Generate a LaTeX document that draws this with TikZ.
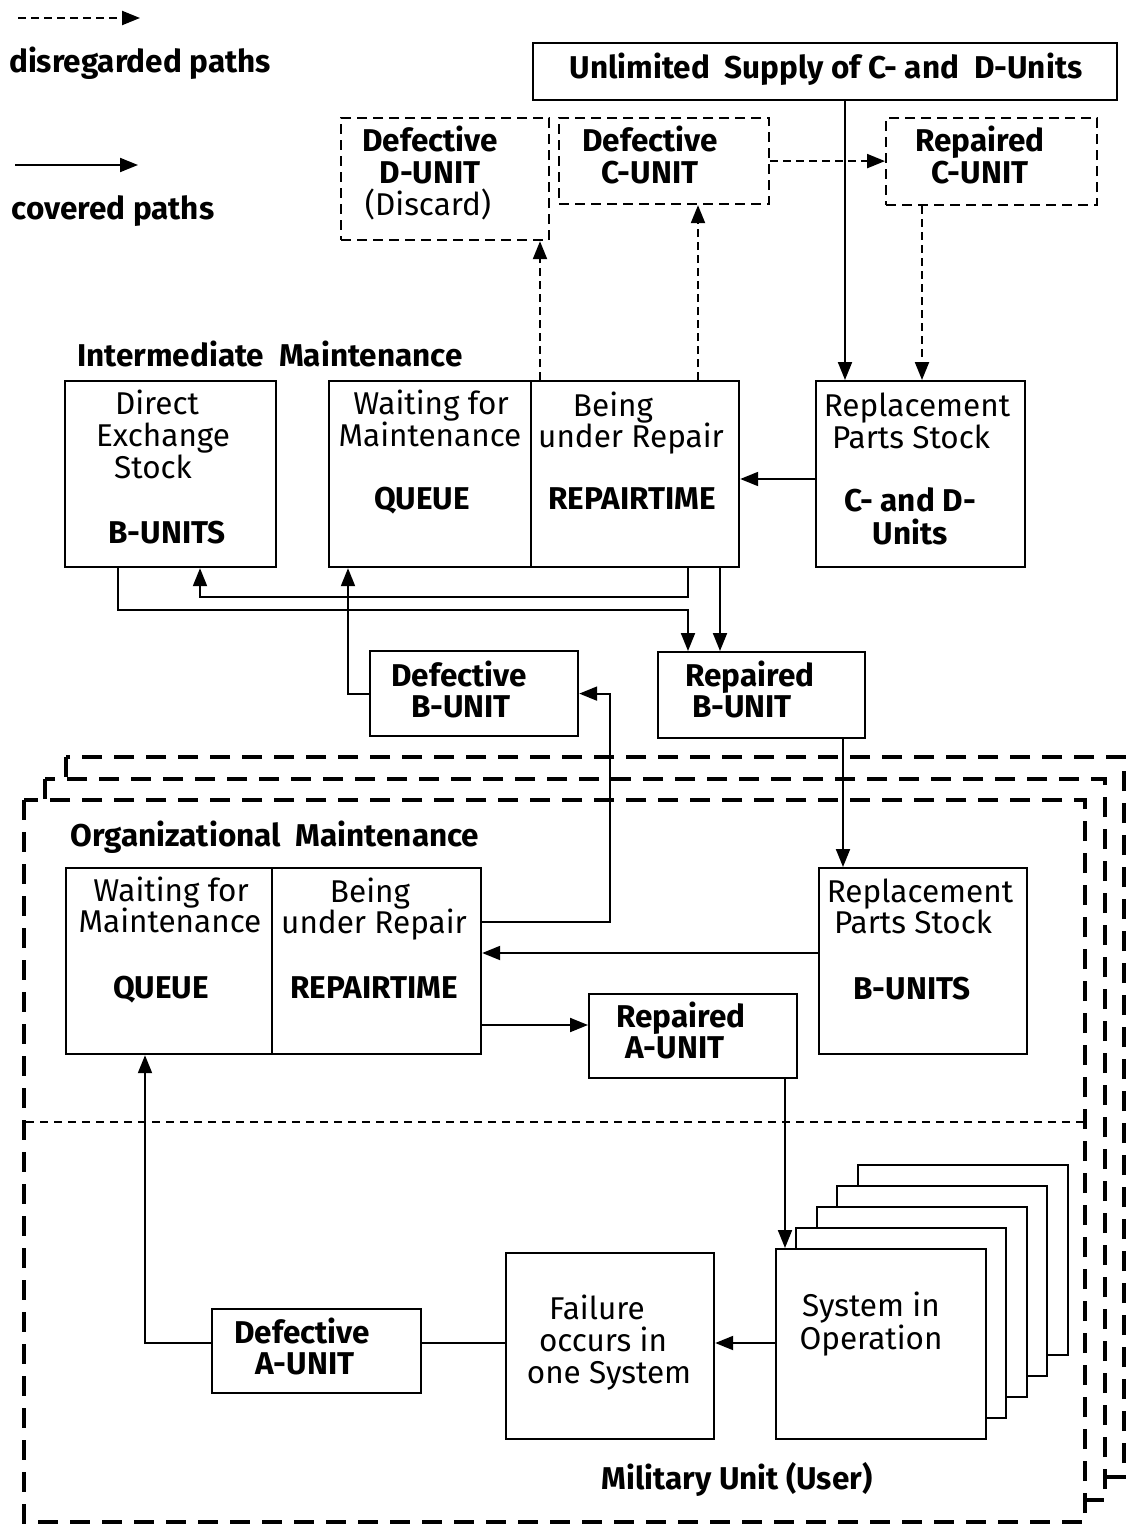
\documentclass[tikz,border=0pt]{standalone}
\usepackage{fontspec}
\setmainfont{Fira Sans}
\usetikzlibrary{arrows.meta}
\begin{document}
\begin{tikzpicture}[x=1pt,y=-1pt,
  box/.style={draw, line width=2.2pt, fill=white, anchor=north west, inner sep=0pt},
  dbox/.style={draw, line width=2.2pt, dash pattern=on 10pt off 6pt, anchor=north west, inner sep=0pt},
  frame/.style={draw, line width=4.5pt, dash pattern=on 20pt off 12pt, fill=white},
  t/.style={font=\fontsize{31.5}{33}\selectfont, inner sep=0pt, anchor=base},
  tb/.style={font=\fontsize{31.5}{33}\selectfont\bfseries, inner sep=0pt, anchor=base},
  arr/.style={line width=2pt, -{Triangle[length=18pt,width=14pt]}},
  darr/.style={line width=2.2pt, dash pattern=on 8pt off 5pt, -{Triangle[length=18pt,width=14pt]}},
  conn/.style={line width=2pt}]
\useasboundingbox (0,0) rectangle (1127,1533);

% ---------- big dashed frames (stacked) ----------
\path[frame] (66,757) rectangle (1124,1477);
\path[frame] (45,779) rectangle (1105,1500);
\path[frame] (24,800) rectangle (1085,1522);
\draw[line width=1.3pt, dash pattern=on 8pt off 6pt] (26,1122) -- (1083,1122);

% ---------- legend ----------
\coordinate (lg1a) at (18,18);
\coordinate (lg1b) at (140,18);
\coordinate (lg2a) at (15,165);
\coordinate (lg2b) at (138,165);
\draw[darr] (lg1a) -- (lg1b);
\draw[arr] (lg2a) -- (lg2b);
\node[tb] (lgt1) at (140,73) {disregarded paths};
\node[tb] (lgt2) at (113,219) {covered paths};

% ---------- top ----------
\node[box, minimum width=584pt, minimum height=57pt] (supply) at (532,42) {};
\node[tb] (supplyt) at (826,79) {Unlimited\ \ Supply of C- and\ \ D-Units};

\node[dbox, minimum width=208pt, minimum height=122pt] (defD) at (340,117) {};
\node[tb] (defDt1) at (430,152) {Defective};
\node[tb] (defDt2) at (430,183) {D-UNIT};
\node[t]  (defDt3) at (428,215) {(Discard)};

\node[dbox, minimum width=210pt, minimum height=86pt] (defC) at (558,117) {};
\node[tb] (defCt1) at (650,152) {Defective};
\node[tb] (defCt2) at (650,184) {C-UNIT};

\node[dbox, minimum width=211pt, minimum height=87pt] (repC) at (885,117) {};
\node[tb] (repCt1) at (980,152) {Repaired};
\node[tb] (repCt2) at (980,184) {C-UNIT};

% ---------- intermediate maintenance ----------
\node[tb] (imt) at (270,366) {Intermediate\ \ Maintenance};

\node[box, minimum width=211pt, minimum height=186pt] (des) at (64,380) {};
\node[t] (dest1) at (157,414) {Direct};
\node[t] (dest2) at (163,446) {Exchange};
\node[t] (dest3) at (153,478) {Stock};
\node[tb] (dest4) at (167,543) {B-UNITS};

\node[box, minimum width=202pt, minimum height=186pt] (q1) at (328,380) {};
\node[box, minimum width=208pt, minimum height=186pt] (r1) at (530,380) {};
\node[t] (q1t1) at (431,414) {Waiting for};
\node[t] (q1t2) at (430,446) {Maintenance};
\node[tb] (q1t3) at (422,509) {QUEUE};
\node[t] (r1t1) at (613,416) {Being};
\node[t] (r1t2) at (631,447) {under Repair};
\node[tb] (r1t3) at (632,509) {REPAIRTIME};

\node[box, minimum width=209pt, minimum height=186pt] (rps1) at (815,380) {};
\node[t] (rps1t1) at (917,416) {Replacement};
\node[t] (rps1t2) at (911,448) {Parts Stock};
\node[tb] (rps1t3) at (910,511) {C- and D-};
\node[tb] (rps1t4) at (910,544) {Units};

\node[box, minimum width=208pt, minimum height=85pt] (defB) at (369,650) {};
\node[tb] (defBt1) at (459,686) {Defective};
\node[tb] (defBt2) at (461,717) {B-UNIT};

\node[box, minimum width=207pt, minimum height=86pt] (repB) at (657,651) {};
\node[tb] (repBt1) at (750,686) {Repaired};
\node[tb] (repBt2) at (742,717) {B-UNIT};

% ---------- organizational maintenance ----------
\node[tb] (omt) at (275,846) {Organizational\ \ Maintenance};

\node[box, minimum width=206pt, minimum height=186pt] (q2) at (65,867) {};
\node[box, minimum width=209pt, minimum height=186pt] (r2) at (271,867) {};
\node[t] (q2t1) at (171,901) {Waiting for};
\node[t] (q2t2) at (170,932) {Maintenance};
\node[tb] (q2t3) at (161,998) {QUEUE};
\node[t] (r2t1) at (370,902) {Being};
\node[t] (r2t2) at (374,933) {under Repair};
\node[tb] (r2t3) at (374,998) {REPAIRTIME};

\node[box, minimum width=208pt, minimum height=186pt] (rps2) at (818,867) {};
\node[t] (rps2t1) at (920,902) {Replacement};
\node[t] (rps2t2) at (913,933) {Parts Stock};
\node[tb] (rps2t3) at (912,999) {B-UNITS};

\node[box, minimum width=208pt, minimum height=84pt] (repA) at (588,993) {};
\node[tb] (repAt1) at (681,1027) {Repaired};
\node[tb] (repAt2) at (675,1058) {A-UNIT};

% ---------- military unit ----------
\node[box, minimum width=210pt, minimum height=190pt] (sys4) at (857,1164) {};
\node[box, minimum width=210pt, minimum height=190pt] (sys3) at (836,1185) {};
\node[box, minimum width=210pt, minimum height=190pt] (sys2) at (816,1206) {};
\node[box, minimum width=210pt, minimum height=190pt] (sys1) at (795,1227) {};
\node[box, minimum width=210pt, minimum height=190pt] (sys) at (775,1248) {};
\node[t] (syst1) at (871,1316) {System in};
\node[t] (syst2) at (871,1349) {Operation};

\node[box, minimum width=208pt, minimum height=186pt] (fail) at (505,1252) {};
\node[t] (failt1) at (597,1319) {Failure};
\node[t] (failt2) at (603,1351) {occurs in};
\node[t] (failt3) at (609,1383) {one System};

\node[box, minimum width=209pt, minimum height=84pt] (defA) at (211,1308) {};
\node[tb] (defAt1) at (302,1343) {Defective};
\node[tb] (defAt2) at (305,1374) {A-UNIT};

\node[tb] (mut) at (737,1489) {Military Unit (User)};

% ---------- connectors ----------
\coordinate (x845) at (845,0);
\coordinate (x922) at (922,0);
\coordinate (x540) at (540,0);
\coordinate (x698) at (698,0);
\coordinate (x688) at (688,0);
\coordinate (x720) at (720,0);
\coordinate (x200) at (200,0);
\coordinate (x118) at (118,0);
\coordinate (x348) at (348,0);
\coordinate (x843) at (843,0);
\coordinate (x610) at (610,0);
\coordinate (x785) at (785,0);
\coordinate (x145) at (145,0);
\coordinate (y479) at (0,479);
\coordinate (y597) at (0,597);
\coordinate (y610) at (0,610);
\coordinate (y922) at (0,922);
\coordinate (y953) at (0,953);
\coordinate (y1025) at (0,1025);
\coordinate (y1343) at (0,1343);

\draw[arr] (supply.south -| x845) -- (rps1.north -| x845);
\draw[darr] (repC.south -| x922) -- (rps1.north -| x922);
\draw[darr] (r1.north -| x540) -- (defD.south -| x540);
\draw[darr] (r1.north -| x698) -- (defC.south -| x698);
\draw[darr] (defC.east) -- (defC.east -| repC.west);
\draw[arr] (rps1.west |- y479) -- (r1.east |- y479);
\draw[arr] (r1.south -| x688) -- (x688 |- y597) -- (x200 |- y597) -- (des.south -| x200);
\draw[arr] (des.south -| x118) -- (x118 |- y610) -- (x688 |- y610) -- (repB.north -| x688);
\draw[arr] (r1.south -| x720) -- (repB.north -| x720);
\draw[arr] (defB.west) -- (defB.west -| x348) -- (q1.south -| x348);
\draw[arr] (repB.south -| x843) -- (rps2.north -| x843);
\draw[arr] (r2.east |- y922) -- (x610 |- y922) -- (x610 |- defB.east) -- (defB.east);
\draw[arr] (rps2.west |- y953) -- (r2.east |- y953);
\draw[arr] (r2.east |- y1025) -- (repA.west |- y1025);
\draw[arr] (repA.south -| x785) -- (sys.north -| x785);
\draw[arr] (sys.west |- y1343) -- (fail.east |- y1343);
\draw[conn] (fail.west |- y1343) -- (defA.east |- y1343);
\draw[arr] (defA.west |- y1343) -- (x145 |- y1343) -- (q2.south -| x145);
\end{tikzpicture}
\end{document}
